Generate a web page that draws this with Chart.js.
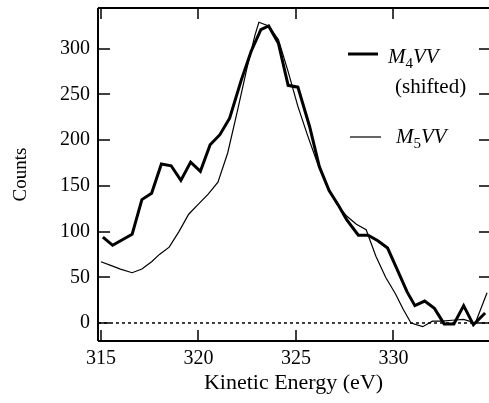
<!doctype html>
<html lang="en">
  <head>
    <meta charset="utf-8">
    <title>M4VV / M5VV Auger spectra</title>
    <script src="https://cdn.jsdelivr.net/npm/chart.js"></script>
    <style>
      body { margin: 0; background: #fff; }
      #wrap { width: 489px; height: 403px; }
    </style>
  </head>
  <body>
  <div id="wrap"><canvas id="myChart"></canvas></div>
  <script>
    // data
    const energyM4 = [315.1, 315.6, 316.1, 316.6, 317.1, 317.6, 318.1, 318.6, 319.1, 319.6,
                      320.1, 320.6, 321.1, 321.6, 322.2, 322.7, 323.2, 323.6, 324.1, 324.6,
                      325.1, 325.7, 326.2, 326.7, 327.2, 327.6, 328.2, 328.7, 329.2, 329.7,
                      330.2, 330.7, 331.1, 331.6, 332.1, 332.6, 333.1, 333.6, 334.1, 334.7];
    const countsM4 = [94, 85, 91, 97, 135, 142, 174, 172, 156, 176,
                      166, 195, 206, 224, 266, 297, 321, 325, 306, 260,
                      258, 215, 171, 145, 128, 113, 96, 96, 90, 82,
                      58, 34, 19, 24, 16, -1, -1, 19, -2, 11];
    const energyM5 = [315.0, 315.5, 316.0, 316.6, 317.1, 317.6, 318.0, 318.5, 319.0, 319.5,
                      320.0, 320.5, 321.0, 321.5, 322.0, 322.5, 322.9, 323.1, 323.6, 324.1,
                      324.6, 325.1, 325.6, 326.1, 326.6, 327.1, 327.6, 328.1, 328.6, 329.1,
                      329.6, 330.1, 330.5, 330.9, 331.5, 332.0, 332.5, 333.0, 333.6, 334.2, 334.8];
    const countsM5 = [67, 63, 59, 55, 59, 67, 75, 83, 100, 119,
                      130, 141, 154, 186, 232, 280, 315, 329, 325, 310,
                      275, 237, 205, 175, 150, 130, 117, 108, 102, 73,
                      50, 32, 15, 0, -4, 2, 2, 3, 4, 0, 33];
    const xTicks = [315, 320, 325, 330];
    const yTicks = [0, 50, 100, 150, 200, 250, 300];

    function toPoints(xs, ys) {
        return xs.map((x, i) => ({x: x, y: ys[i]}));
    }

    const serif = "'Liberation Serif', 'DejaVu Serif', serif";

    // frame, inward ticks, zero line and the hand-set legend
    const framePlugin = {
        id: 'frame',
        beforeDatasetsDraw: (chart) => {
            const ctx = chart.ctx;
            const {left, right} = chart.chartArea;
            const y0 = chart.scales.y.getPixelForValue(0);
            ctx.save();
            ctx.strokeStyle = '#000';
            ctx.lineWidth = 1.5;
            ctx.setLineDash([3, 3]);
            ctx.beginPath();
            ctx.moveTo(left, y0);
            ctx.lineTo(right, y0);
            ctx.stroke();
            ctx.restore();
        },
        afterDatasetsDraw: (chart) => {
            const ctx = chart.ctx;
            const {left, right, top, bottom} = chart.chartArea;
            const xs = chart.scales.x, ys = chart.scales.y;
            ctx.save();
            ctx.strokeStyle = '#000';
            ctx.lineWidth = 2;
            ctx.beginPath();
            ctx.moveTo(left, top); ctx.lineTo(right, top);
            ctx.moveTo(left, top); ctx.lineTo(left, bottom);
            ctx.moveTo(left, bottom); ctx.lineTo(right, bottom);
            ctx.stroke();

            ctx.lineWidth = 1.5;
            ctx.beginPath();
            xTicks.forEach(v => {
                const px = Math.round(xs.getPixelForValue(v));
                ctx.moveTo(px, bottom); ctx.lineTo(px, bottom - 11);
                ctx.moveTo(px, top); ctx.lineTo(px, top + 11);
            });
            yTicks.forEach(v => {
                const py = Math.round(ys.getPixelForValue(v));
                ctx.moveTo(left, py); ctx.lineTo(left + 12, py);
                ctx.moveTo(right, py); ctx.lineTo(right - 10, py);
            });
            ctx.stroke();

            // legend
            ctx.lineWidth = 3;
            ctx.beginPath();
            ctx.moveTo(348, 54); ctx.lineTo(378, 54);
            ctx.stroke();
            ctx.lineWidth = 1.2;
            ctx.beginPath();
            ctx.moveTo(350, 137); ctx.lineTo(381, 137);
            ctx.stroke();

            ctx.fillStyle = '#000';
            ctx.textBaseline = 'alphabetic';
            ctx.textAlign = 'left';
            const drawLabel = (x, y, sub) => {
                ctx.font = 'italic 21px ' + serif;
                ctx.fillText('M', x, y);
                let w = ctx.measureText('M').width;
                ctx.font = '15px ' + serif;
                ctx.fillText(sub, x + w, y + 5);
                w += ctx.measureText(sub).width;
                ctx.font = 'italic 21px ' + serif;
                ctx.fillText('VV', x + w, y);
            };
            drawLabel(388, 63, '4');
            ctx.font = '21px ' + serif;
            ctx.fillText('(shifted)', 395, 93);
            drawLabel(396, 143, '5');
            ctx.restore();
        }
    };

    const ctx = document.getElementById('myChart');
    const myChart = new Chart(ctx, {
        type: 'scatter',
        data: {
            datasets: [{
                label: 'M4VV (shifted)',
                data: toPoints(energyM4, countsM4),
                showLine: true,
                borderColor: '#000',
                borderWidth: 3,
                pointRadius: 0,
                tension: 0
            }, {
                label: 'M5VV',
                data: toPoints(energyM5, countsM5),
                showLine: true,
                borderColor: '#000',
                borderWidth: 1.2,
                pointRadius: 0,
                tension: 0
            }]
        },
        plugins: [framePlugin],
        options: {
            responsive: true,
            maintainAspectRatio: false,
            animation: false,
            layout: { padding: { top: 8, right: 0, left: 0, bottom: 0 } },
            plugins: {
                legend: { display: false },
                tooltip: { enabled: false }
            },
            scales: {
                x: {
                    type: 'linear',
                    min: 314.85,
                    max: 334.9,
                    afterBuildTicks: (scale) => { scale.ticks = xTicks.map(v => ({value: v})); },
                    afterFit: (scale) => {
                        scale.height = 62;
                        scale.paddingLeft = 0; scale.paddingRight = 0;
                    },
                    border: { display: false },
                    grid: { display: false, drawTicks: false },
                    ticks: {
                        color: '#000',
                        padding: 6,
                        maxRotation: 0,
                        font: { family: serif, size: 20 }
                    },
                    title: {
                        display: true,
                        text: 'Kinetic Energy (eV)',
                        color: '#000',
                        padding: { top: 0, bottom: 7 },
                        font: { family: serif, size: 22 }
                    }
                },
                y: {
                    min: -19.7,
                    max: 344.6,
                    afterBuildTicks: (scale) => { scale.ticks = yTicks.map(v => ({value: v})); },
                    afterFit: (scale) => {
                        scale.width = 98;
                        scale.paddingTop = 0; scale.paddingBottom = 0;
                    },
                    border: { display: false },
                    grid: { display: false, drawTicks: false },
                    ticks: {
                        color: '#000',
                        padding: 8,
                        font: { family: serif, size: 20 }
                    },
                    title: {
                        display: true,
                        text: 'Counts',
                        color: '#000',
                        padding: { top: 10, bottom: 0 },
                        font: { family: serif, size: 19 }
                    }
                }
            }
        }
    });
  </script>
  </body>
</html>
